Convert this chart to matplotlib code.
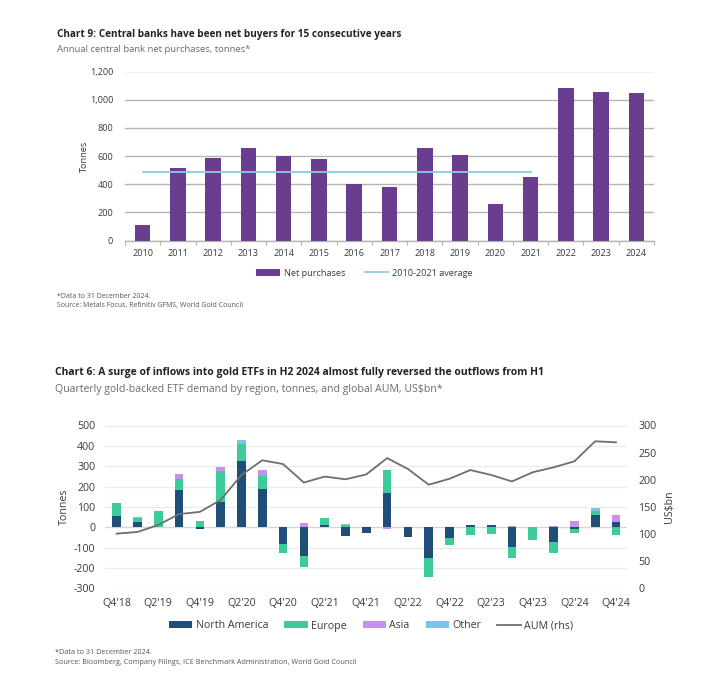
import numpy as np
import matplotlib
matplotlib.use("Agg")
import matplotlib.pyplot as plt
from matplotlib.patches import Patch
from matplotlib.lines import Line2D

plt.rcParams['font.family'] = ['Open Sans', 'DejaVu Sans']
plt.rcParams['axes.unicode_minus'] = False

# ---- chart 9 data: central bank net purchases ----
years = ['2010', '2011', '2012', '2013', '2014', '2015', '2016', '2017',
         '2018', '2019', '2020', '2021', '2022', '2023', '2024']
net_purchases = [107, 517, 583, 655, 602, 581, 398, 382,
                 659, 607, 258, 453, 1081, 1053, 1046]
avg_years = ['2010', '2021']
top_yticks = [0, 200, 400, 600, 800, 1000, 1200]

# ---- chart 6 data: ETF flows by region + AUM ----
quarters = ["Q4'18", "Q1'19", "Q2'19", "Q3'19", "Q4'19", "Q1'20", "Q2'20",
            "Q3'20", "Q4'20", "Q1'21", "Q2'21", "Q3'21", "Q4'21", "Q1'22",
            "Q2'22", "Q3'22", "Q4'22", "Q1'23", "Q2'23", "Q3'23", "Q4'23",
            "Q1'24", "Q2'24", "Q3'24", "Q4'24"]
north_america = [56, 26, 3, 181, -6, 126, 328, 190, -83, -141, 13, -42, -26,
                 170, -46, -149, -51, 10, 10, -95, 3, -70, -10, 59, 26]
europe = [65, 21, 77, 57, 33, 153, 82, 62, -41, -52, 31, 10, 0,
          114, 0, -93, -36, -39, -31, -57, -62, -54, -19, 21, -39]
asia = [0, 0, 0, 25, 0, 18, 0, 31, 0, 20, 0, 0, 0,
        -10, 0, 0, 0, 0, 0, 5, 0, 5, 31, 0, 33]
other = [0, 3, 0, 0, 0, 0, 21, 0, 0, 0, 0, 6, 0,
         0, 0, 0, 0, 0, 0, 0, 0, 0, 0, 16, 0]
aum = [101, 104, 117, 137, 141, 163, 209, 236, 229, 195, 206, 201, 210,
       240, 220, 191, 202, 218, 209, 197, 214, 223, 234, 271, 269]
left_yticks = [-300, -200, -100, 0, 100, 200, 300, 400, 500]
right_yticks = [0, 50, 100, 150, 200, 250, 300]

W, H = 714, 686
fig = plt.figure(figsize=(W / 100, H / 100), dpi=100)
fig.patch.set_facecolor('white')


def px_axes(left, top, right, bottom):
    return fig.add_axes([left / W, 1 - bottom / H, (right - left) / W, (bottom - top) / H])


def ftext(x, y, s, **kw):
    fig.text(x / W, 1 - y / H, s, va='center', **kw)


TXT = '#3a3a3a'
SUB = '#6b6b6b'
NOTE = '#555555'

# ================= top chart =================
ftext(57, 34, 'Chart 9: Central banks have been net buyers for 15 consecutive years',
      fontsize=7.2, fontweight='bold', color='#222222')
ftext(57, 50, 'Annual central bank net purchases, tonnes*', fontsize=6.8, color=SUB)

ax1 = px_axes(125, 71.5, 654, 240.5)
x1 = np.arange(len(years))
ax1.bar(x1, net_purchases, width=0.44, color='#6B3D8F', zorder=3,
        label='Net purchases')
avg = np.mean(net_purchases[:years.index('2021') + 1])
i0, i1 = years.index(avg_years[0]), years.index(avg_years[1])
ax1.plot([i0, i1], [avg, avg], color='#8CCBE3', lw=1.3, zorder=4,
         label='2010-2021 average')
ax1.set_xlim(-0.5, len(years) - 0.5)
ax1.set_ylim(0, 1200)
ax1.set_yticks(top_yticks)
ax1.set_yticklabels([f'{v:,}' for v in top_yticks])
ax1.set_xticks(x1)
ax1.set_xticklabels(years)
ax1.set_xticks(np.arange(-0.5, len(years), 1), minor=True)
ax1.grid(axis='y', color='#B5B5B5', lw=1.0, zorder=0)
for s in ['top', 'right', 'left']:
    ax1.spines[s].set_visible(False)
ax1.spines['bottom'].set_color('#B5B5B5')
ax1.spines['bottom'].set_linewidth(1.0)
ax1.tick_params(axis='y', length=0, pad=8.5, labelsize=6.6, labelcolor=TXT)
ax1.tick_params(axis='x', which='major', length=0, pad=6, labelsize=6.6, labelcolor=TXT)
ax1.tick_params(axis='x', which='minor', length=3, color='#B5B5B5', width=0.8)
ftext(84, 156, 'Tonnes', fontsize=6.6, color=TXT, rotation=90, ha='center')

h1 = [Patch(facecolor='#6B3D8F'), Line2D([], [], color='#8CCBE3', lw=1.3)]
fig.legend(h1, ['Net purchases', '2010-2021 average'], loc='center',
           bbox_to_anchor=(364.5 / W, 1 - 273 / H), ncol=2, frameon=False,
           fontsize=6.6, handlelength=2.6, handleheight=0.7, handletextpad=0.45,
           columnspacing=2.1, labelcolor=TXT)

ftext(57, 297, '*Data to 31 December 2024.', fontsize=5.0, color=NOTE)
ftext(57, 306, 'Source: Metals Focus, Refinitiv GFMS, World Gold Council',
      fontsize=5.0, color=NOTE)

# ================= bottom chart =================
ftext(55, 373, 'Chart 6: A surge of inflows into gold ETFs in H2 2024 almost fully reversed the outflows from H1',
      fontsize=7.5, fontweight='bold', color='#222222')
ftext(55, 389, 'Quarterly gold-backed ETF demand by region, tonnes, and global AUM, US$bn*',
      fontsize=7.6, color=SUB)

ax2 = px_axes(105, 425.5, 627, 588.5)
x2 = np.arange(len(quarters))
series = [(north_america, '#1F4E79', 'North America'),
          (europe, '#3DCB99', 'Europe'),
          (asia, '#C890E6', 'Asia'),
          (other, '#7CC3E9', 'Other')]
pos_base = np.zeros(len(quarters))
neg_base = np.zeros(len(quarters))
for vals, col, lab in series:
    v = np.array(vals, dtype=float)
    base = np.where(v >= 0, pos_base, neg_base)
    ax2.bar(x2, v, bottom=base, width=0.42, color=col, zorder=3, label=lab)
    pos_base += np.clip(v, 0, None)
    neg_base += np.clip(v, None, 0)
ax2.set_xlim(-0.56, len(quarters) - 0.47)
ax2.set_ylim(-300, 500)
ax2.set_yticks(left_yticks)
ax2.set_xticks(x2[::2])
ax2.set_xticklabels(quarters[::2])
ax2.grid(axis='y', color='#EBEBEB', lw=0.9, zorder=0)
ax2.axhline(0, color='#D5D5D5', lw=0.9, zorder=2)
for s in ax2.spines.values():
    s.set_visible(False)
ax2.tick_params(axis='y', length=0, pad=7, labelsize=7.7, labelcolor=TXT)
ax2.tick_params(axis='x', length=0, pad=7, labelsize=7.7, labelcolor=TXT)

ax3 = ax2.twinx()
ax3.plot(x2, aum, color='#6E6E6E', lw=1.3, zorder=5)
ax3.set_ylim(0, 300)
ax3.set_yticks(right_yticks)
for s in ax3.spines.values():
    s.set_visible(False)
ax3.tick_params(axis='y', length=0, pad=8, labelsize=7.7, labelcolor=TXT)

ftext(64, 507, 'Tonnes', fontsize=7.7, color=TXT, rotation=90, ha='center')
ftext(669, 507, 'US$bn', fontsize=7.7, color=TXT, rotation=90, ha='center')

h2 = [Patch(facecolor=c) for _, c, _ in series] + [Line2D([], [], color='#6E6E6E', lw=1.3)]
l2 = [lab for _, _, lab in series] + ['AUM (rhs)']
fig.legend(h2, l2, loc='center', bbox_to_anchor=(371 / W, 1 - 626 / H), ncol=5,
           frameon=False, fontsize=7.7, handlelength=2.2, handleheight=0.6,
           handletextpad=0.3, columnspacing=1.5, labelcolor=TXT)

ftext(55, 653, '*Data to 31 December 2024.', fontsize=5.2, color=NOTE)
ftext(55, 662, 'Source: Bloomberg, Company Filings, ICE Benchmark Administration, World Gold Council',
      fontsize=5.2, color=NOTE)

fig.savefig('out.png', dpi=100, facecolor='white')
